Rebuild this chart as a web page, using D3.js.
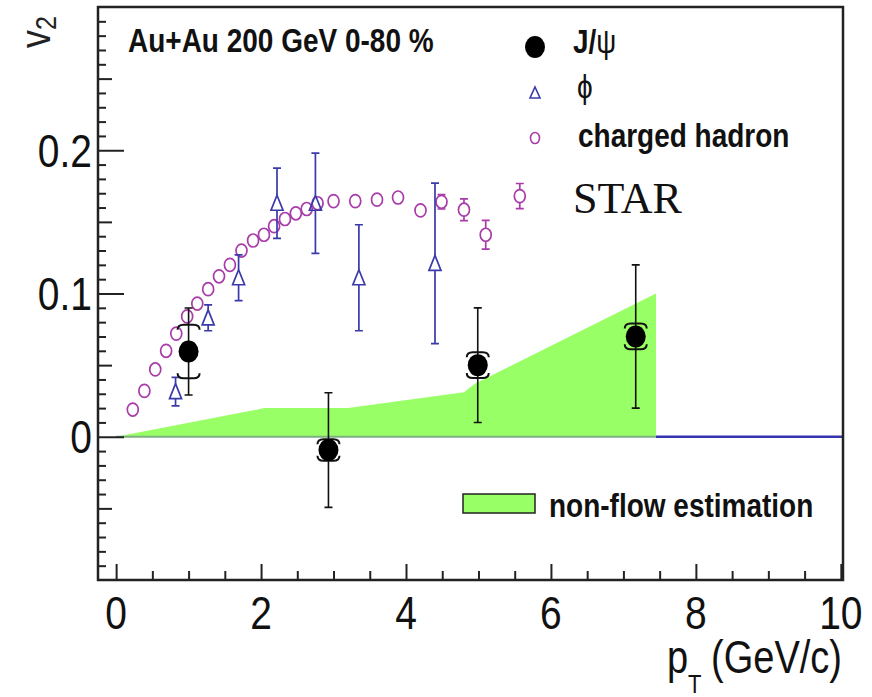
<!DOCTYPE html>
<html>
<head>
<meta charset="utf-8">
<script src="https://cdn.jsdelivr.net/npm/d3@7"></script>
<style>
  body { margin: 0; background: #fff; }
  svg { display: block; }
</style>
</head>
<body>
<svg id="chart"></svg>
<script>
// charged hadron v2 (open circles), STAR
const hadronPt  = [0.23, 0.39, 0.54, 0.69, 0.83, 0.98, 1.12, 1.27, 1.42, 1.57, 1.73, 1.89, 2.04, 2.18,
                   2.33, 2.48, 2.63, 2.78, 3.0, 3.3, 3.6, 3.89, 4.2, 4.49, 4.8, 5.1, 5.57];
const hadronV2  = [0.019, 0.032, 0.047, 0.060, 0.072, 0.084, 0.093, 0.103, 0.112, 0.120, 0.130, 0.137, 0.141, 0.147,
                   0.152, 0.156, 0.159, 0.163, 0.1645, 0.1645, 0.1655, 0.167, 0.158, 0.164, 0.1585, 0.141, 0.168];
const hadronErr = [0, 0, 0, 0, 0, 0, 0, 0, 0, 0, 0, 0, 0, 0,
                   0, 0, 0, 0, 0, 0, 0, 0, 0, 0.005, 0.0076, 0.010, 0.0088];

// phi v2 (open triangles)
const phiPt  = [0.82, 1.27, 1.69, 2.22, 2.75, 3.35, 4.40];
const phiV2  = [0.0315, 0.083, 0.111, 0.163, 0.163, 0.111, 0.121];
const phiErr = [0.010, 0.009, 0.016, 0.0245, 0.035, 0.037, 0.056];

// J/psi v2 (filled circles), stat. and syst. errors
const jpsiPt   = [1.0, 2.93, 4.99, 7.17];
const jpsiV2   = [0.0595, -0.0093, 0.050, 0.070];
const jpsiStat = [0.0304, 0.040, 0.040, 0.050];
const jpsiSys  = [0.0187, 0.0075, 0.009, 0.009];

// non-flow estimation band (upper edge)
const nonflowPt = [0, 2.05, 3.2, 4.8, 4.95, 7.45, 7.45];
const nonflowV2 = [0, 0.02, 0.02, 0.031, 0.037, 0.10, 0];

const xTickLabels = [0, 2, 4, 6, 8, 10];
const yTickLabels = [0, 0.1, 0.2];

const W = 872, H = 697;
const FONT = "'Liberation Sans', Arial, Helvetica, sans-serif";
const svg = d3.select("#chart").attr("width", W).attr("height", H);

const x = d3.scaleLinear().domain([-0.25, 10.03]).range([98, 843]);
const y = d3.scaleLinear().domain([-0.1, 0.3]).range([580, 7]);

// text stretched vertically like the original
function label(px, py, str, size, opts = {}) {
  return svg.append("text")
    .attr("transform", `translate(${px},${py}) scale(1,${opts.sy || 1.2})`)
    .attr("text-anchor", opts.anchor || "start")
    .style("font-family", opts.family || FONT)
    .style("font-weight", opts.bold ? "bold" : "normal")
    .style("font-size", size + "px")
    .attr("fill", opts.color || "#111")
    .text(str);
}

// zero line: blue after the band, grey-green under it
const bandEnd = d3.max(nonflowPt);
svg.append("line")
  .attr("x1", x(bandEnd)).attr("x2", x(10.03))
  .attr("y1", y(0)).attr("y2", y(0))
  .attr("stroke", "#3535b0").attr("stroke-width", 2.5);

// non-flow band
const band = nonflowPt.map((p, i) => [p, nonflowV2[i]]);
svg.append("path")
  .datum(band)
  .attr("d", d3.line().x(d => x(d[0])).y(d => y(d[1])))
  .attr("fill", "#99ff66")
  .attr("stroke", "none");
svg.append("line")
  .attr("x1", x(0)).attr("x2", x(bandEnd))
  .attr("y1", y(0)).attr("y2", y(0))
  .attr("stroke", "#7faf7f").attr("stroke-width", 2);

// ticks
const tickG = svg.append("g");
function yTicks(vals, len) {
  const g = tickG.append("g").attr("transform", `translate(${x.range()[0]},0)`)
    .call(d3.axisLeft(y).tickValues(vals).tickSize(-len).tickFormat(""));
  g.select(".domain").remove();
  g.selectAll("line").attr("stroke", "#222").attr("stroke-width", 2);
}
function xTicks(vals, len) {
  const g = tickG.append("g").attr("transform", `translate(0,${y.range()[0]})`)
    .call(d3.axisBottom(x).tickValues(vals).tickSize(-len).tickFormat(""));
  g.select(".domain").remove();
  g.selectAll("line").attr("stroke", "#222").attr("stroke-width", 2);
}
const yAll = d3.range(-9, 30).map(i => i / 100);
yTicks(yAll.filter(v => Math.round(v * 100) % 5 !== 0), 8);
yTicks(yAll.filter(v => Math.round(v * 100) % 5 === 0 && Math.round(v * 100) % 10 !== 0), 14);
yTicks(yAll.filter(v => Math.round(v * 100) % 10 === 0), 26);
const xAll = d3.range(0, 21).map(i => i / 2);
xTicks(xAll.filter(v => v % 2 !== 0), 9);
xTicks(xAll.filter(v => v % 2 === 0), 16);

// frame
svg.append("rect")
  .attr("x", x.range()[0]).attr("y", y.range()[1])
  .attr("width", x.range()[1] - x.range()[0])
  .attr("height", y.range()[0] - y.range()[1])
  .attr("fill", "none").attr("stroke", "#222").attr("stroke-width", 2.5);

// tick labels
yTickLabels.forEach(v => label(92, y(v) + 16.5, d3.format("")(v), 39, { anchor: "end" }));
xTickLabels.forEach(v => label(x(v), 629, v, 39, { anchor: "middle" }));

// axis titles
label(667, 673, "p", 38);
label(688, 693, "T", 22);
label(842, 673, "(GeV/c)", 38, { anchor: "end" });
const yt = svg.append("text")
  .attr("transform", "translate(50,48) rotate(-90) scale(1,1.2)")
  .style("font-family", FONT).style("font-size", "36px").attr("fill", "#222");
yt.append("tspan").text("v");
yt.append("tspan").attr("dy", 5).style("font-size", "25px").text("2");

// charged hadrons
const hadColor = "#a83ca8";
const had = hadronPt.map((p, i) => ({ p, v: hadronV2[i], e: hadronErr[i] }));
const hg = svg.append("g").attr("stroke", hadColor).attr("stroke-width", 1.7).attr("fill", "none");
had.filter(d => d.e > 0).forEach(d => {
  const cx = x(d.p), cy = y(d.v);
  hg.append("path").attr("d",
    `M${cx},${y(d.v + d.e)}V${cy - 6.5}M${cx},${cy + 6.5}V${y(d.v - d.e)}` +
    `M${cx - 4},${y(d.v + d.e)}H${cx + 4}M${cx - 4},${y(d.v - d.e)}H${cx + 4}`);
});
hg.selectAll("ellipse").data(had).enter().append("ellipse")
  .attr("cx", d => x(d.p)).attr("cy", d => y(d.v))
  .attr("rx", 5.5).attr("ry", 6.5);

// phi
const phiColor = "#3a3aaa";
const phi = phiPt.map((p, i) => ({ p, v: phiV2[i], e: phiErr[i] }));
const pg = svg.append("g").attr("stroke", phiColor).attr("stroke-width", 1.7).attr("fill", "none");
phi.forEach(d => {
  const cx = x(d.p), cy = y(d.v);
  pg.append("path").attr("d",
    `M${cx},${y(d.v + d.e)}V${cy - 8}M${cx},${cy + 7}V${y(d.v - d.e)}` +
    `M${cx - 4},${y(d.v + d.e)}H${cx + 4}M${cx - 4},${y(d.v - d.e)}H${cx + 4}`);
  pg.append("path").attr("d", `M${cx},${cy - 8}L${cx + 6},${cy + 7}L${cx - 6},${cy + 7}Z`);
});

// J/psi
const jp = jpsiPt.map((p, i) => ({ p, v: jpsiV2[i], s: jpsiStat[i], sys: jpsiSys[i] }));
const jg = svg.append("g").attr("stroke", "#111").attr("fill", "none");
jp.forEach(d => {
  const cx = x(d.p), cy = y(d.v);
  const t = y(d.v + d.s), b = y(d.v - d.s);
  jg.append("path").attr("stroke-width", 1.6).attr("d",
    `M${cx},${t}V${b}M${cx - 4},${t}H${cx + 4}M${cx - 4},${b}H${cx + 4}`);
  const yt2 = y(d.v + d.sys), yb = y(d.v - d.sys);
  jg.append("path").attr("stroke-width", 2).attr("d",
    `M${cx - 11},${yt2 + 5}Q${cx - 11},${yt2} ${cx - 5},${yt2}H${cx + 5}Q${cx + 11},${yt2} ${cx + 11},${yt2 + 5}` +
    `M${cx - 11},${yb - 5}Q${cx - 11},${yb} ${cx - 5},${yb}H${cx + 5}Q${cx + 11},${yb} ${cx + 11},${yb - 5}`);
});
svg.append("g").selectAll("ellipse").data(jp).enter().append("ellipse")
  .attr("cx", d => x(d.p)).attr("cy", d => y(d.v))
  .attr("rx", 10).attr("ry", 11).attr("fill", "#000");

// title
label(128, 52, "Au+Au 200 GeV 0-80 %", 28, { bold: true });

// legend
svg.append("ellipse").attr("cx", 535).attr("cy", 47).attr("rx", 10).attr("ry", 11).attr("fill", "#000");
svg.append("path").attr("d", "M535,87L540,98L530,98Z").attr("fill", "none")
  .attr("stroke", phiColor).attr("stroke-width", 1.6);
svg.append("ellipse").attr("cx", 535).attr("cy", 138).attr("rx", 4.5).attr("ry", 5.5)
  .attr("fill", "none").attr("stroke", hadColor).attr("stroke-width", 1.6);

const jl = label(573, 53, "J/", 28, { bold: true });
jl.append("tspan").style("font-weight", "normal").text("ψ");
label(577, 98, "ϕ", 28);
label(578, 147, "charged hadron", 28, { bold: true });
label(573, 213, "STAR", 44, { sy: 1, family: "'Liberation Serif', 'Times New Roman', serif" });

svg.append("rect").attr("x", 463).attr("y", 494).attr("width", 72).attr("height", 19)
  .attr("fill", "#99ff66").attr("stroke", "#222").attr("stroke-width", 1.5);
label(549, 517, "non-flow estimation", 28, { bold: true });
</script>
</body>
</html>
